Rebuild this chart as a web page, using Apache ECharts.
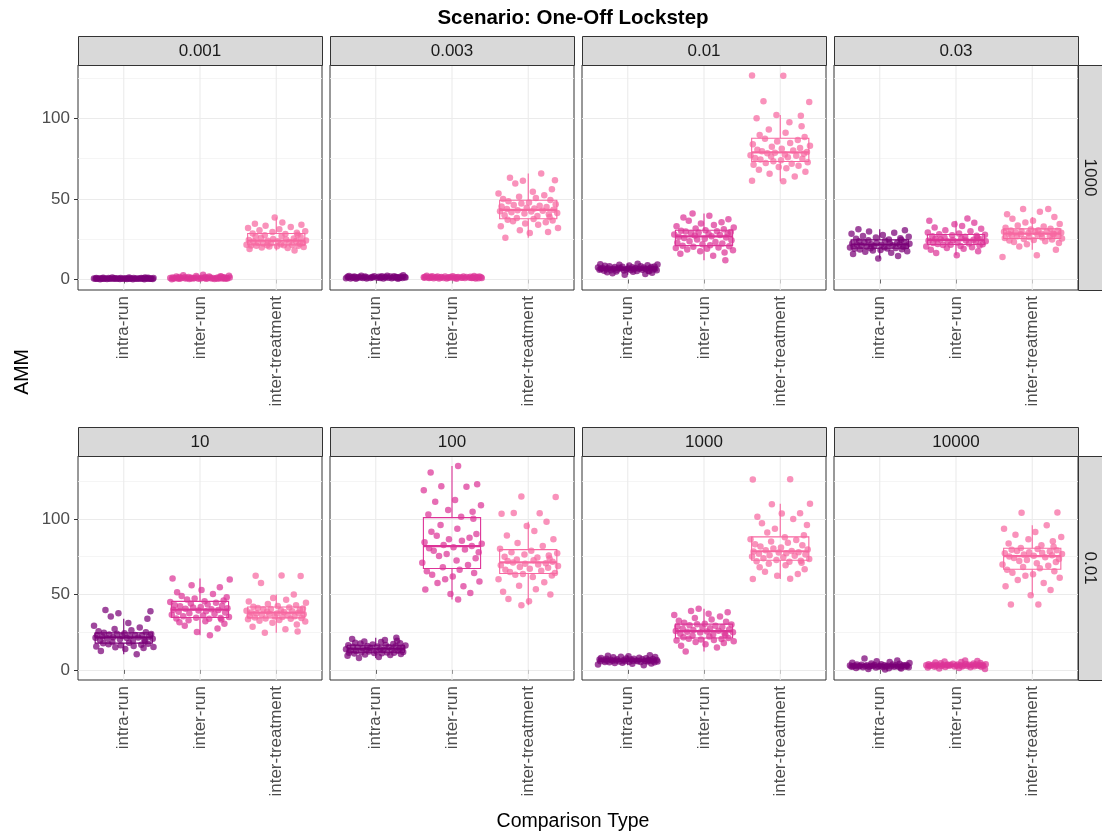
<!DOCTYPE html>
<html>
<head>
<meta charset="utf-8">
<title>Scenario: One-Off Lockstep</title>
<script src="https://cdn.jsdelivr.net/npm/echarts@6/dist/echarts.min.js"></script>
<style>
  html, body { margin: 0; padding: 0; background: #ffffff; }
  #chart { width: 1102px; height: 834px; }
</style>
</head>
<body>
<div id="chart"></div>
<script>
// ---- data ----
const CATEGORIES = ["intra-run", "inter-run", "inter-treatment"];
const PANEL_LABELS = ["0.001", "0.003", "0.01", "0.03", "10", "100", "1000", "10000"];
const ROW_LABELS = ["1000", "0.01"];
const X_TICKS = [1, 2, 3];
const Y_TICKS = [0, 50, 100];
const Y_MINOR = [25, 75, 125];

// panel 0.001
const intra_0001 = [0.1,0.2,0.2,0.3,0.3,0.3,0.3,0.4,0.4,0.4,0.4,0.4,0.4,0.5,0.5,0.5,0.5,0.5,0.5,0.5,0.5,0.5,0.6,0.6,0.6,0.6,0.6,0.6,0.6,0.6,0.7,0.7,0.7,0.7,0.7,0.8,0.8,0.8,0.8,0.9,0.9,0.9,1.0,1.0,1.0,1.1,1.1,1.2,1.2,1.3];
const inter_0001 = [0.2,0.3,0.3,0.4,0.4,0.5,0.5,0.5,0.6,0.6,0.6,0.6,0.7,0.7,0.7,0.7,0.8,0.8,0.8,0.8,0.9,0.9,0.9,0.9,0.9,1.0,1.0,1.0,1.0,1.1,1.1,1.1,1.2,1.2,1.2,1.3,1.3,1.4,1.4,1.5,1.5,1.6,1.7,1.8,1.9,2.0,2.2,2.4,2.7,3.0];
const treat_0001 = [18.0,18.9,19.5,19.8,20.2,20.5,20.7,20.9,21.0,21.1,21.2,21.3,21.4,21.6,21.9,22.1,22.3,22.5,22.7,22.9,23.2,23.5,23.7,23.9,24.0,24.2,24.5,24.8,25.1,25.5,25.9,26.3,26.7,27.0,27.4,27.8,28.2,28.6,29.0,29.5,30.0,30.6,31.2,31.9,32.6,33.4,34.0,34.6,35.3,38.5];
// panel 0.003
const intra_0003 = [0.4,0.5,0.6,0.7,0.7,0.8,0.8,0.9,0.9,1.0,1.0,1.0,1.1,1.1,1.1,1.1,1.2,1.2,1.2,1.2,1.2,1.3,1.3,1.3,1.3,1.4,1.4,1.4,1.4,1.5,1.5,1.5,1.6,1.6,1.6,1.7,1.7,1.8,1.8,1.9,1.9,2.0,2.0,2.1,2.2,2.3,2.4,2.6];
const inter_0003 = [0.5,0.6,0.7,0.7,0.8,0.8,0.9,0.9,1.0,1.0,1.0,1.0,1.1,1.1,1.1,1.1,1.2,1.2,1.2,1.2,1.2,1.3,1.3,1.3,1.3,1.3,1.4,1.4,1.4,1.4,1.5,1.5,1.5,1.6,1.6,1.6,1.7,1.7,1.8,1.8,1.9,1.9,2.0,2.1,2.2,2.4];
const treat_0003 = [25.9,28.9,29.4,30.6,32.0,33.1,34.0,34.8,35.5,36.1,36.6,37.0,37.5,38.1,38.8,39.4,39.9,40.4,40.9,41.3,41.7,42.1,42.4,42.7,43.0,43.3,43.7,44.1,44.5,44.9,45.3,45.8,46.2,46.7,47.2,47.8,48.5,49.3,49.9,50.5,51.3,52.2,53.3,54.4,56.0,59.6,61.2,61.6,63.1,65.8];
// panel 0.01
const intra_001 = [2.9,3.4,3.9,4.2,4.5,4.8,5.0,5.1,5.3,5.4,5.5,5.6,5.7,5.8,5.9,6.0,6.0,6.1,6.2,6.3,6.3,6.4,6.5,6.5,6.6,6.6,6.7,6.8,6.9,7.0,7.0,7.1,7.2,7.3,7.4,7.5,7.6,7.7,7.8,7.9,8.0,8.2,8.3,8.5,8.7,8.9,9.1,9.3,9.5,9.8];
const inter_001 = [12.0,14.8,15.9,16.8,17.5,18.1,18.6,19.1,19.5,19.9,20.3,20.6,20.9,21.3,21.8,22.3,22.8,23.3,23.8,24.3,24.8,25.3,25.7,26.1,26.5,26.9,27.3,27.6,27.9,28.2,28.5,28.8,29.1,29.4,29.7,30.0,30.3,30.6,31.1,31.7,32.3,33.0,33.8,34.7,35.5,36.4,37.3,38.4,39.6,40.9];
const treat_001 = [61.0,61.3,63.9,65.5,66.8,68.0,69.0,69.8,70.5,71.1,71.7,72.2,72.7,73.3,73.9,74.4,74.9,75.4,75.8,76.2,76.7,77.1,77.5,77.9,78.3,78.6,79.0,79.5,80.0,80.5,81.0,81.6,82.3,83.0,83.8,84.6,85.5,86.5,87.3,88.4,89.6,91.0,93.0,95.0,97.5,100.0,101.5,102.0,110.0,110.5,126.4,126.5];
// panel 0.03
const intra_003 = [13.0,14.6,15.8,16.6,17.2,17.6,18.0,18.3,18.6,18.8,19.0,19.2,19.4,19.6,19.8,20.0,20.3,20.5,20.7,20.9,21.1,21.3,21.5,21.6,21.7,21.9,22.1,22.3,22.5,22.7,22.9,23.1,23.4,23.7,24.0,24.3,24.6,24.8,25.2,25.6,26.0,26.5,27.0,27.6,28.3,29.0,29.8,30.5,31.2];
const inter_003 = [15.0,16.5,17.6,18.4,19.0,19.6,20.0,20.4,20.8,21.1,21.4,21.6,21.8,22.0,22.3,22.6,22.9,23.2,23.5,23.8,24.0,24.2,24.4,24.6,24.8,25.0,25.3,25.6,25.9,26.2,26.5,26.8,27.1,27.4,27.7,28.1,28.6,29.2,29.9,30.6,31.4,32.3,33.2,34.2,35.2,36.4,37.9];
const treat_003 = [14.0,15.0,18.5,20.5,21.8,22.7,23.3,23.8,24.2,24.5,24.8,25.1,25.4,25.7,26.0,26.3,26.6,26.9,27.2,27.5,27.8,28.0,28.2,28.3,28.4,28.6,28.8,29.0,29.2,29.4,29.6,29.8,30.0,30.2,30.4,30.6,31.0,31.5,32.1,32.8,33.5,34.4,35.4,36.5,37.6,38.8,40.4,42.0,43.7,43.7];
// panel 10
const intra_10 = [10.3,12.5,13.8,14.5,15.0,15.2,15.5,15.9,16.3,16.7,17.0,17.3,17.6,18.0,18.4,18.8,19.2,19.6,20.0,20.3,20.6,20.9,21.1,21.3,21.5,21.7,21.9,22.1,22.3,22.5,22.7,22.9,23.1,23.4,23.7,24.0,24.3,24.6,25.0,25.6,26.3,27.1,28.0,29.3,31.0,33.9,35.4,37.5,38.8,39.6];
const inter_10 = [22.9,25.1,27.4,29.2,30.5,31.5,32.3,32.9,33.4,33.8,34.1,34.3,34.6,35.0,35.5,36.0,36.5,37.0,37.5,38.0,38.5,38.9,39.3,39.6,39.8,40.1,40.5,40.9,41.3,41.7,42.1,42.5,42.9,43.4,43.9,44.5,45.0,45.5,46.0,46.6,47.3,48.1,49.0,50.2,51.5,53.0,54.7,56.0,59.8,60.5];
const treat_10 = [24.6,25.5,27.0,28.6,30.0,31.2,32.0,32.6,33.1,33.5,33.8,34.1,34.4,34.7,35.0,35.3,35.6,35.9,36.2,36.5,36.8,37.1,37.4,37.6,37.8,38.0,38.3,38.6,38.9,39.2,39.5,39.8,40.1,40.4,40.7,41.0,41.4,41.8,42.3,42.9,43.6,44.4,45.3,46.4,47.6,49.9,57.6,62.2,62.4,62.5];
// panel 100
const intra_100 = [7.9,8.6,9.3,9.8,10.2,10.5,10.8,11.0,11.2,11.3,11.4,11.5,11.7,11.9,12.1,12.3,12.5,12.7,12.9,13.1,13.3,13.5,13.7,13.9,14.1,14.3,14.5,14.7,14.9,15.1,15.3,15.5,15.7,15.9,16.1,16.3,16.5,16.8,17.1,17.4,17.7,18.0,18.4,18.8,19.3,19.8,20.4,21.3];
const inter_100 = [46.6,50.3,51.0,53.2,55.4,57.6,58.5,60.1,61.8,63.0,64.2,65.3,66.4,68.0,69.5,71.0,72.5,74.0,75.5,76.8,78.0,79.0,79.8,80.6,81.3,82.0,82.8,83.6,84.5,85.5,86.5,87.6,88.8,90.0,91.5,93.5,96.0,100.2,101.5,103.0,104.8,106.0,109.0,111.4,112.5,119.0,121.3,121.7,123.0,130.8,135.0];
const treat_100 = [42.9,45.5,47.0,50.0,51.7,53.5,55.8,58.0,60.0,61.5,62.5,63.0,63.5,64.2,64.9,65.6,66.3,67.0,67.6,68.2,68.8,69.3,69.8,70.3,70.7,71.2,71.7,72.2,72.7,73.2,73.8,74.4,75.0,75.7,76.4,77.2,78.0,79.0,80.3,82.0,84.0,86.5,89.0,92.0,95.4,98.2,103.5,103.7,104.0,114.6,114.8];
// panel 1000
const intra_1000 = [3.1,3.6,4.0,4.3,4.6,4.8,5.0,5.1,5.2,5.3,5.4,5.5,5.6,5.6,5.7,5.8,5.8,5.9,6.0,6.0,6.1,6.1,6.2,6.3,6.3,6.4,6.5,6.5,6.6,6.7,6.8,6.9,7.0,7.1,7.2,7.3,7.4,7.6,7.7,7.9,8.1,8.3,8.5,8.7,9.0,9.3,9.7];
const inter_1000 = [12.1,14.8,16.0,17.0,17.8,18.5,19.0,19.4,19.8,20.1,20.4,20.7,21.1,21.6,22.1,22.6,23.1,23.5,23.9,24.3,24.7,25.0,25.3,25.5,25.7,26.0,26.4,26.8,27.2,27.6,28.0,28.4,28.8,29.2,29.6,30.0,30.3,30.6,31.2,31.9,32.6,33.4,34.3,35.3,36.3,37.2,38.2,39.0,40.5];
const treat_1000 = [60.2,60.4,62.4,63.5,65.0,66.6,68.0,69.3,70.3,71.0,71.6,72.0,72.3,72.8,73.4,74.0,74.6,75.1,75.6,76.0,76.5,76.9,77.3,77.7,78.0,78.4,78.8,79.3,79.8,80.4,81.0,81.7,82.5,83.3,84.2,85.1,86.0,86.6,87.8,89.2,91.0,93.5,96.0,97.1,100.0,101.5,103.6,103.7,109.8,110.0,126.1,126.3];
// panel 10000
const intra_10000 = [0.3,0.6,0.9,1.1,1.3,1.5,1.6,1.7,1.8,1.9,2.0,2.0,2.1,2.1,2.2,2.2,2.3,2.3,2.4,2.4,2.5,2.5,2.6,2.6,2.6,2.7,2.7,2.8,2.8,2.9,2.9,3.0,3.0,3.1,3.2,3.3,3.4,3.5,3.6,3.8,4.0,4.2,4.5,4.8,5.2,5.7,6.3,7.5];
const inter_10000 = [0.6,1.0,1.3,1.5,1.7,1.9,2.0,2.1,2.2,2.3,2.4,2.5,2.5,2.6,2.6,2.7,2.7,2.8,2.8,2.9,2.9,3.0,3.0,3.0,3.1,3.1,3.2,3.2,3.3,3.3,3.4,3.4,3.5,3.5,3.6,3.7,3.8,3.9,4.0,4.2,4.4,4.6,4.9,5.2,5.5,5.9,6.2];
const treat_10000 = [43.3,43.4,49.5,53.0,55.4,57.6,59.5,61.0,62.3,63.4,64.4,65.4,66.4,67.3,68.2,69.0,69.8,70.6,71.4,72.1,72.8,73.5,74.1,74.7,75.2,75.6,76.0,76.4,76.8,77.2,77.6,78.0,78.4,78.8,79.2,79.6,80.1,80.7,81.5,82.5,83.8,85.2,86.6,88.0,89.6,91.4,93.5,95.8,104.1,104.3];

// horizontal jitter offsets (category units, like geom_jitter width 0.4)
const JITTER = [0.12,-0.31,0.27,-0.05,0.38,-0.22,0.04,-0.37,0.19,-0.14,0.33,-0.28,0.08,-0.02,0.24,-0.35,0.15,-0.19,0.36,-0.09,0.01,-0.26,0.29,-0.33,0.10,-0.12,0.21,-0.39,0.06,0.31,-0.17,-0.07,0.35,-0.24,0.17,-0.30,0.02,0.26,-0.11,0.39,-0.36,0.13,-0.04,0.23,-0.20,0.32,-0.27,0.07,-0.15,0.28];

const PANEL_DATA = [
  [intra_0001, inter_0001, treat_0001],
  [intra_0003, inter_0003, treat_0003],
  [intra_001, inter_001, treat_001],
  [intra_003, inter_003, treat_003],
  [intra_10, inter_10, treat_10],
  [intra_100, inter_100, treat_100],
  [intra_1000, inter_1000, treat_1000],
  [intra_10000, inter_10000, treat_10000]
];

// ---- look ----
const COLORS = ["#7a0177", "#dd3497", "#f768a1"];
const GRID_COLOR = "#ebebeb";
const FONT = "Liberation Sans, Arial, Helvetica, sans-serif";
const PANEL_LEFT = [78, 330, 582, 834];
const PANEL_W = 244;
const ROW_TOP = [65, 456];
const ROW_H = [225, 224];
const ROW_YRANGE = [[-6.5, 133], [-6.7, 141.7]];
const STRIP_H = 29;

function quantile(sorted, p) {
  const h = (sorted.length - 1) * p;
  const lo = Math.floor(h);
  const hi = Math.min(lo + 1, sorted.length - 1);
  return sorted[lo] + (h - lo) * (sorted[hi] - sorted[lo]);
}
function boxStats(values) {
  const s = values.slice().sort((a, b) => a - b);
  const q1 = quantile(s, 0.25), med = quantile(s, 0.5), q3 = quantile(s, 0.75);
  const iqr = q3 - q1;
  const lowFence = q1 - 1.5 * iqr, highFence = q3 + 1.5 * iqr;
  const inside = s.filter(v => v >= lowFence && v <= highFence);
  return [inside[0], q1, med, q3, inside[inside.length - 1]];
}

function renderBox(params, api) {
  const x = api.value(0);
  const col = COLORS[params.dataIndex];
  const a = api.coord([x - 0.375, api.value(2)]);
  const b = api.coord([x + 0.375, api.value(4)]);
  const m = api.coord([x, api.value(3)]);
  const wl = api.coord([x, api.value(1)]);
  const wh = api.coord([x, api.value(5)]);
  return {
    type: "group",
    children: [
      { type: "line", shape: { x1: wh[0], y1: wh[1], x2: wh[0], y2: b[1] }, style: { stroke: col, lineWidth: 1.1 } },
      { type: "line", shape: { x1: wl[0], y1: a[1], x2: wl[0], y2: wl[1] }, style: { stroke: col, lineWidth: 1.1 } },
      { type: "rect", shape: { x: a[0], y: b[1], width: b[0] - a[0], height: a[1] - b[1] }, style: { fill: "none", stroke: col, lineWidth: 1.1 } },
      { type: "line", shape: { x1: a[0], y1: m[1], x2: b[0], y2: m[1] }, style: { stroke: col, lineWidth: 2.2 } }
    ]
  };
}

// vertical major grid lines at the category positions
function renderVGrid(params, api) {
  const r = params.coordSys;
  const p = api.coord([api.value(0), 0]);
  return {
    type: "line",
    shape: { x1: p[0], y1: r.y, x2: p[0], y2: r.y + r.height },
    style: { stroke: GRID_COLOR, lineWidth: 1.1 }
  };
}

const grid = [], xAxis = [], yAxis = [], series = [], graphic = [];

PANEL_DATA.forEach((groups, p) => {
  const row = Math.floor(p / 4), col = p % 4;
  const left = PANEL_LEFT[col], top = ROW_TOP[row];
  grid.push({
    left: left, top: top, width: PANEL_W, height: ROW_H[row],
    show: true, backgroundColor: "#ffffff", borderColor: "#333333", borderWidth: 1
  });
  xAxis.push({
    type: "value", gridIndex: p, min: 0.4, max: 3.6,
    axisLine: { show: false },
    axisTick: { show: true, length: 4, customValues: X_TICKS, lineStyle: { color: "#333333", width: 1 } },
    axisLabel: {
      show: true, customValues: X_TICKS, rotate: 90, margin: 6,
      color: "#4d4d4d", fontSize: 17, fontFamily: FONT,
      formatter: v => CATEGORIES[Math.round(v) - 1]
    },
    splitLine: { show: false }
  });
  const yr = ROW_YRANGE[row];
  yAxis.push({
    type: "value", gridIndex: p, min: yr[0], max: yr[1],
    axisLine: { show: false },
    axisTick: { show: col === 0, length: 4, customValues: Y_TICKS, lineStyle: { color: "#333333", width: 1 } },
    axisLabel: { show: col === 0, customValues: Y_TICKS, margin: 8, color: "#4d4d4d", fontSize: 17, fontFamily: FONT },
    splitLine: { show: true, lineStyle: { color: GRID_COLOR, width: 1.1 } }
  });
  yAxis.push({
    type: "value", gridIndex: p, min: yr[0], max: yr[1],
    axisLine: { show: false },
    axisTick: { show: false, customValues: Y_MINOR },
    axisLabel: { show: false, customValues: Y_MINOR },
    splitLine: { show: true, lineStyle: { color: "#f3f3f3", width: 0.8 } }
  });

  series.push({
    type: "custom", xAxisIndex: p, yAxisIndex: 2 * p,
    renderItem: renderVGrid, silent: true, z: 1,
    data: X_TICKS.map(v => [v, 0])
  });
  series.push({
    type: "custom", xAxisIndex: p, yAxisIndex: 2 * p,
    renderItem: renderBox, silent: true, z: 2,
    data: groups.map((vals, g) => [g + 1].concat(boxStats(vals)))
  });
  groups.forEach((vals, g) => {
    const off = (p * 3 + g) * 7;
    series.push({
      type: "scatter", xAxisIndex: p, yAxisIndex: 2 * p, z: 3,
      symbol: "circle", symbolSize: 6.5,
      itemStyle: { color: COLORS[g], opacity: 0.72 },
      data: vals.map((v, i) => [g + 1 + JITTER[(i + off) % JITTER.length], v])
    });
  });

  // strip on top
  graphic.push({
    type: "rect", left: left, top: top - STRIP_H, z: 10,
    shape: { width: PANEL_W, height: STRIP_H },
    style: { fill: "#d9d9d9", stroke: "#333333", lineWidth: 1 }
  });
  graphic.push({
    type: "text", x: left + PANEL_W / 2, y: top - STRIP_H / 2 + 1, z: 11,
    style: { text: PANEL_LABELS[p], fill: "#1a1a1a", font: "17px " + FONT, textAlign: "center", textVerticalAlign: "middle" }
  });
});

// row strips on the right
ROW_LABELS.forEach((lab, r) => {
  graphic.push({
    type: "rect", left: 1078, top: ROW_TOP[r], z: 10,
    shape: { width: 24, height: ROW_H[r] },
    style: { fill: "#d9d9d9", stroke: "#333333", lineWidth: 1 }
  });
  graphic.push({
    type: "text", x: 1090, y: ROW_TOP[r] + ROW_H[r] / 2, rotation: -Math.PI / 2, z: 11,
    style: { text: lab, fill: "#1a1a1a", font: "17px " + FONT, textAlign: "center", textVerticalAlign: "middle" }
  });
});

// titles
graphic.push({
  type: "text", x: 573, y: 18, z: 11,
  style: { text: "Scenario: One-Off Lockstep", fill: "#000000", font: "bold 20.5px " + FONT, textAlign: "center", textVerticalAlign: "middle" }
});
graphic.push({
  type: "text", x: 23, y: 372, rotation: Math.PI / 2, z: 11,
  style: { text: "AMM", fill: "#000000", font: "19.5px " + FONT, textAlign: "center", textVerticalAlign: "middle" }
});
graphic.push({
  type: "text", x: 573, y: 822, z: 11,
  style: { text: "Comparison Type", fill: "#000000", font: "19.5px " + FONT, textAlign: "center", textVerticalAlign: "middle" }
});

const chart = echarts.init(document.getElementById("chart"), null, { renderer: "canvas" });
chart.setOption({
  animation: false,
  backgroundColor: "#ffffff",
  grid: grid,
  xAxis: xAxis,
  yAxis: yAxis,
  series: series,
  graphic: graphic
});
</script>
</body>
</html>
